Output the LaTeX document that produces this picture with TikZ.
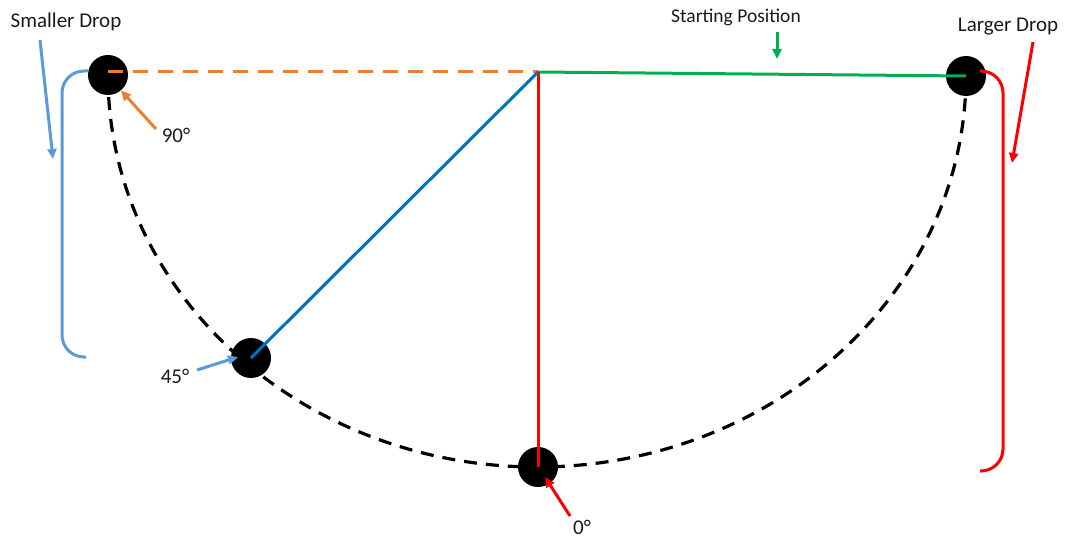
\documentclass[tikz,border=0pt]{standalone}
\usepackage{fontspec}
\setmainfont{Carlito}
\usetikzlibrary{arrows.meta,positioning}
\definecolor{pdOrange}{HTML}{ED7D31}
\definecolor{pdGreen}{HTML}{00B050}
\definecolor{pdRed}{HTML}{FF0000}
\definecolor{pdBlue}{HTML}{0070C0}
\definecolor{pdSky}{HTML}{5B9BD5}
\definecolor{pdInk}{HTML}{1A1A1A}
\tikzset{
  pdbob/.style={circle, fill=black, minimum size=40pt, inner sep=0pt},
  pdrod/.style={line width=3pt},
  pdpath/.style={line width=3.2pt, dash pattern=on 13pt off 9pt},
  pdarrow/.style={-{Triangle[length=10pt,width=9pt]}, line width=3pt},
  pdbracket/.style={line width=3pt, rounded corners=22pt},
  pdlabel/.style={font=\fontsize{21}{24}\selectfont, text=pdInk, inner sep=1pt},
  pdsmall/.style={font=\fontsize{19.5}{22}\selectfont, text=pdInk, inner sep=1pt}
}

\begin{document}
\begin{tikzpicture}[x=1pt,y=-1pt]
\useasboundingbox (0,0) rectangle (1065,540);

% Pivote y masas
\coordinate (pivot) at (538,72);
\node[pdbob] (bobL) at (108,75) {};
\node[pdbob] (bobR) at (966,76) {};
\node[pdbob] (bobB) at (538,467) {};
\node[pdbob] (bobM) at (251,358) {};

% Trayectoria
\draw[pdpath] (bobL.center) arc[start angle=180, end angle=0, x radius=429, y radius=392];

% Varillas
\draw[pdrod, pdOrange, dash pattern=on 15pt off 10pt] (bobL.center |- pivot) -- (pivot);
\draw[pdrod, pdGreen] (pivot) -- (bobR.center);
\draw[pdrod, pdRed] (pivot) -- (bobB.center);
\draw[pdrod, pdBlue] (pivot) -- (bobM.center);

% Textos
\node[pdlabel] (smaller) at (66,22) {Smaller Drop};
\node[pdlabel] (larger) at (1008,27) {Larger Drop};
\node[pdsmall] (start) at (736,17) {Starting Position};
\node[pdlabel] (a90) at (176,135) {90°};
\node[pdlabel] (a45) at (175,376) {45°};
\node[pdlabel, inner sep=0pt] (a0) at (582,527) {0°};

% Corchetes de caída
\coordinate (sdTop) at (88,71);
\coordinate (sdBot) at (86,357);
\draw[pdbracket, pdSky] (sdTop) -- (62,71) -- (62,357) -- (sdBot);
\coordinate (ldTop) at (980,71);
\coordinate (ldBot) at (980,471);
\draw[pdbracket, pdRed] (ldTop) -- (1003,71) -- (1003,471) -- (ldBot);

% Flechas
\coordinate (t90) at (156,129);
\coordinate (t45) at (197,370);  \coordinate (h45) at (238,357);
\coordinate (t0) at (570,516);   \coordinate (h0) at (545,477);
\coordinate (tS) at (40,40);     \coordinate (hS) at (53,159);
\coordinate (tL) at (1033,42);   \coordinate (hL) at (1012,163);
\coordinate (tP) at (777,32);    \coordinate (hP) at (777,59);
\draw[pdarrow, pdOrange] (t90) -- (bobL.-50);
\draw[pdarrow, pdSky] (t45) -- (h45);
\draw[pdarrow, pdRed] (t0) -- (h0);
\draw[pdarrow, pdSky] (tS) -- (hS);
\draw[pdarrow, pdRed] (tL) -- (hL);
\draw[pdarrow, pdGreen] (tP) -- (hP);

\end{tikzpicture}
\end{document}
